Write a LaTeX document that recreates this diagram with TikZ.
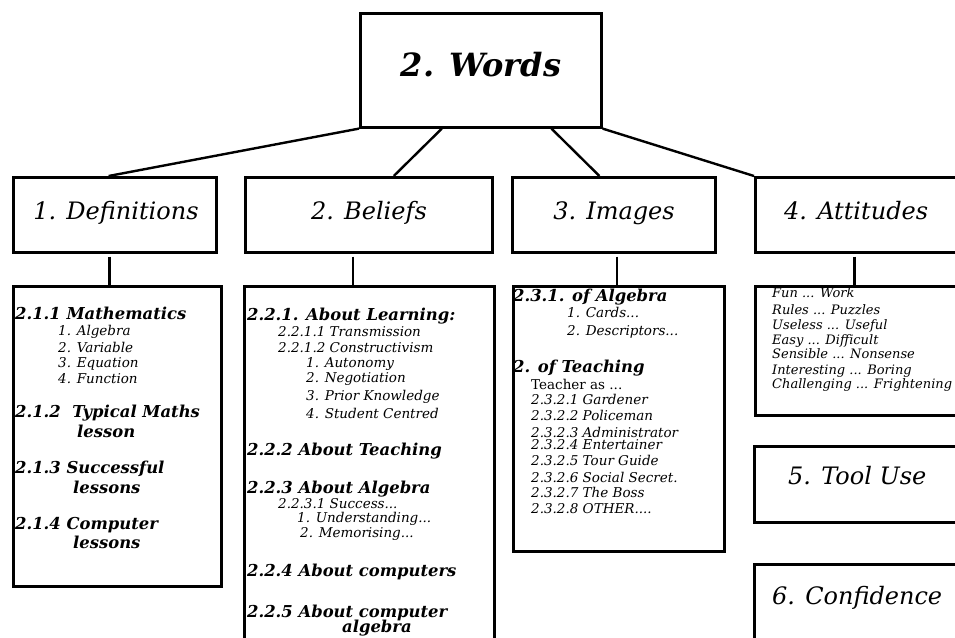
\documentclass[tikz,border=0pt]{standalone}
\usepackage{fontspec}
\setmainfont{DejaVu Serif}
\usetikzlibrary{calc}
\begin{document}
\begin{tikzpicture}[x=1pt,y=-1pt,
  box/.style={draw=black,line width=2.6pt,rectangle,inner sep=0pt,anchor=north west},
  conn/.style={line width=2.4pt},
  bigt/.style={inner sep=0pt,anchor=base,font=\fontsize{32}{36}\selectfont\bfseries\itshape},
  tit/.style={inner sep=0pt,font=\fontsize{24}{28}\selectfont\itshape},
  hd/.style={inner sep=0pt,anchor=base west,font=\fontsize{16.4}{19}\selectfont\bfseries\itshape},
  sm/.style={inner sep=0pt,anchor=base west,font=\fontsize{13.5}{16}\selectfont\itshape},
  atx/.style={inner sep=0pt,anchor=base west,font=\fontsize{13}{16}\selectfont\itshape}]
\useasboundingbox (0,0) rectangle (955,637);
\clip (0,0) rectangle (955,637);
% boxes
\node[box,minimum width=241pt,minimum height=114pt] (top) at (359,12) {};
\node[box,minimum width=203pt,minimum height=75pt] (def) at (12,176) {};
\node[box,minimum width=247pt,minimum height=75pt] (bel) at (244,176) {};
\node[box,minimum width=203pt,minimum height=75pt] (img) at (511,176) {};
\node[box,minimum width=220pt,minimum height=75pt] (att) at (754,176) {};
\node[box,minimum width=208pt,minimum height=300pt] (defc) at (12,285) {};
\node[box,minimum width=250pt,minimum height=380pt] (belc) at (243,285) {};
\node[box,minimum width=211pt,minimum height=265pt] (imgc) at (512,285) {};
\node[box,minimum width=220pt,minimum height=129pt] (attc) at (754,285) {};
\node[box,minimum width=220pt,minimum height=76pt] (tool) at (753,445) {};
\node[box,minimum width=220pt,minimum height=100pt] (conf) at (753,563) {};
% titles
\node[bigt] (tw) at (481,76) {2. Words};
\node[tit,anchor=base] (tdef) at (116,219) {1. Definitions};
\node[tit,anchor=base] (tbel) at (369,219) {2. Beliefs};
\node[tit,anchor=base] (timg) at (614,219) {3. Images};
\node[tit,anchor=base west] (tatt) at (784,219) {4. Attitudes};
\node[tit,anchor=base west] (ttool) at (788,484) {5. Tool Use};
\node[tit,anchor=base west] (tconf) at (772,604) {6. Confidence};
% connectors
\draw[conn] (top.south west) -- ($(def.north west)!0.47!(def.north east)$);
\draw[conn] ($(top.south west)!0.34!(top.south east)$) -- ($(bel.north west)!0.6!(bel.north east)$);
\draw[conn] ($(top.south west)!0.79!(top.south east)$) -- ($(img.north west)!0.43!(img.north east)$);
\draw[conn] (top.south east) -- (att.north west);
\draw[conn] ([xshift=-5.5pt,yshift=-3pt]def.south) -- ([xshift=-5.5pt]def.south |- defc.north);
\draw[conn] ([xshift=-16pt,yshift=-3pt]bel.south) -- ([xshift=-16pt]bel.south |- belc.north);
\draw[conn] ([xshift=3pt,yshift=-3pt]img.south) -- ([xshift=3pt]img.south |- imgc.north);
\draw[conn] ([xshift=-11pt,yshift=-3pt]att.south) -- ([xshift=-11pt]att.south |- attc.north);
% definitions content
\node[hd] (d1) at (15,319) {2.1.1 Mathematics};
\node[sm] (d1a) at (58,335) {1. Algebra};
\node[sm] (d1b) at (58,352) {2. Variable};
\node[sm] (d1c) at (58,367) {3. Equation};
\node[sm] (d1d) at (58,383) {4. Function};
\node[hd] (d2) at (15,417) {2.1.2~ Typical Maths};
\node[hd] (d2b) at (77,437) {lesson};
\node[hd] (d3) at (15,473) {2.1.3 Successful};
\node[hd] (d3b) at (73,493) {lessons};
\node[hd] (d4) at (15,529) {2.1.4 Computer};
\node[hd] (d4b) at (73,548) {lessons};
% beliefs content
\node[hd] (b1) at (247,320) {2.2.1. About Learning:};
\node[sm] (b1a) at (278,336) {2.2.1.1 Transmission};
\node[sm] (b1b) at (278,352) {2.2.1.2 Constructivism};
\node[sm] (b1c) at (306,367) {1. Autonomy};
\node[sm] (b1d) at (306,382) {2. Negotiation};
\node[sm] (b1e) at (306,400) {3. Prior Knowledge};
\node[sm] (b1f) at (306,418) {4. Student Centred};
\node[hd] (b2) at (247,455) {2.2.2 About Teaching};
\node[hd] (b3) at (247,493) {2.2.3 About Algebra};
\node[sm] (b3a) at (278,508) {2.2.3.1 Success...};
\node[sm] (b3b) at (297,522) {1. Understanding...};
\node[sm] (b3c) at (300,537) {2. Memorising...};
\node[hd] (b4) at (247,576) {2.2.4 About computers};
\node[hd] (b5) at (247,617) {2.2.5 About computer};
\node[hd] (b5b) at (342,632) {algebra};
% images content
\node[hd] (i1) at (513,301) {2.3.1. of Algebra};
\node[sm] (i1a) at (567,317) {1. Cards...};
\node[sm] (i1b) at (567,335) {2. Descriptors...};
\node[hd] (i2) at (513,372) {2. of Teaching};
\node[sm,font=\fontsize{13.5}{16}\selectfont\upshape] (i2a) at (531,389) {Teacher as ...};
\node[sm] (i2b) at (531,404) {2.3.2.1 Gardener};
\node[sm] (i2c) at (531,420) {2.3.2.2 Policeman};
\node[sm] (i2d) at (531,437) {2.3.2.3 Administrator};
\node[sm] (i2e) at (531,449) {2.3.2.4 Entertainer};
\node[sm] (i2f) at (531,465) {2.3.2.5 Tour Guide};
\node[sm] (i2g) at (531,482) {2.3.2.6 Social Secret.};
\node[sm] (i2h) at (531,497) {2.3.2.7 The Boss};
\node[sm] (i2i) at (531,513) {2.3.2.8 OTHER....};
% attitudes content
\node[atx] (a1) at (772,297) {Fun ... Work};
\node[atx] (a2) at (772,314) {Rules ... Puzzles};
\node[atx] (a3) at (772,329) {Useless ... Useful};
\node[atx] (a4) at (772,344) {Easy ... Difficult};
\node[atx] (a5) at (772,358) {Sensible ... Nonsense};
\node[atx] (a6) at (772,374) {Interesting ... Boring};
\node[atx] (a7) at (772,388) {Challenging ... Frightening};
\end{tikzpicture}
\end{document}
